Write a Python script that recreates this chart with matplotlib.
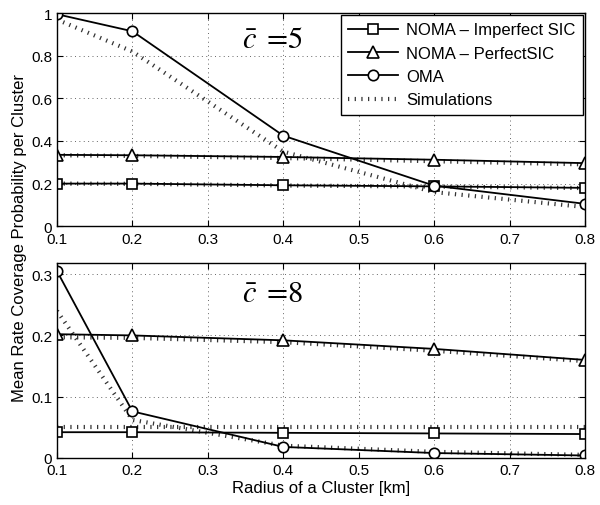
import matplotlib
matplotlib.use("Agg")
import matplotlib.pyplot as plt

plt.rcParams['font.family'] = ['Liberation Sans', 'DejaVu Sans']
plt.rcParams['mathtext.fontset'] = 'stix'

radius = [0.1, 0.2, 0.4, 0.6, 0.8]

# c = 5
top_imperfect = [0.200, 0.200, 0.192, 0.187, 0.180]
top_perfect = [0.335, 0.333, 0.325, 0.312, 0.296]
top_oma = [0.995, 0.915, 0.425, 0.190, 0.105]
top_sim_imperfect = [0.200, 0.199, 0.191, 0.186, 0.179]
top_sim_perfect = [0.333, 0.330, 0.320, 0.305, 0.290]
top_sim_oma = [0.970, 0.820, 0.350, 0.160, 0.090]

# c = 8
bot_imperfect = [0.042, 0.042, 0.041, 0.040, 0.039]
bot_perfect = [0.202, 0.200, 0.192, 0.178, 0.160]
bot_oma = [0.305, 0.076, 0.018, 0.008, 0.004]
bot_sim_imperfect = [0.050, 0.050, 0.050, 0.050, 0.050]
bot_sim_perfect = [0.197, 0.196, 0.189, 0.175, 0.158]
bot_sim_oma = [0.240, 0.062, 0.020, 0.010, 0.005]

labels = ["NOMA – Imperfect SIC", "NOMA – PerfectSIC", "OMA", "Simulations"]

fig = plt.figure(figsize=(6.0, 5.06), dpi=100)
ax1 = fig.add_axes([0.095, 0.551, 0.88, 0.421])
ax2 = fig.add_axes([0.095, 0.093, 0.88, 0.385])

sim_kw = dict(color='#333333', lw=3.0, dashes=(0.3, 1.3), dash_capstyle='butt', solid_capstyle='butt')
line_kw = dict(color='black', lw=1.3, mfc='white', mec='black', mew=1.2, ms=7)

def draw(ax, imp, per, oma, simi, simp, simo):
    ax.plot(radius, simi, **sim_kw)
    ax.plot(radius, simp, **sim_kw)
    ax.plot(radius, simo, **sim_kw)
    h1, = ax.plot(radius, imp, marker='s', **dict(line_kw, ms=6.5))
    h2, = ax.plot(radius, per, marker='^', **dict(line_kw, ms=8))
    h3, = ax.plot(radius, oma, marker='o', **dict(line_kw, ms=7.5))
    return h1, h2, h3

h1, h2, h3 = draw(ax1, top_imperfect, top_perfect, top_oma, top_sim_imperfect, top_sim_perfect, top_sim_oma)
draw(ax2, bot_imperfect, bot_perfect, bot_oma, bot_sim_imperfect, bot_sim_perfect, bot_sim_oma)
hs, = ax1.plot([], [], **sim_kw)

for ax in (ax1, ax2):
    ax.set_xlim(0.1, 0.8)
    ax.set_xticks([0.1, 0.2, 0.3, 0.4, 0.5, 0.6, 0.7, 0.8])
    ax.grid(True, color='#666666', linestyle=(0, (1, 3.5)), lw=0.7)
    ax.tick_params(direction='in', top=True, right=True, labelsize=11, length=4)
    ax.tick_params(axis='x', pad=4)
    for s in ax.spines.values():
        s.set_linewidth(1.0)

ax1.set_ylim(0, 1)
ax1.set_yticks([0, 0.2, 0.4, 0.6, 0.8, 1])
ax1.set_yticklabels(['0', '0.2', '0.4', '0.6', '0.8', '1'])
ax2.set_ylim(0, 0.318)
ax2.set_yticks([0, 0.1, 0.2, 0.3])
ax2.set_yticklabels(['0', '0.1', '0.2', '0.3'])

ax1.text(0.345, 0.88, r'$\bar{c}\;=\!5$', fontsize=22, ha='left', va='center')
ax2.text(0.345, 0.27, r'$\bar{c}\;=\!8$', fontsize=22, ha='left', va='center')

leg = ax1.legend([h1, h2, h3, hs], labels, loc='upper right', fontsize=12,
                 frameon=True, fancybox=False, edgecolor='black', framealpha=1,
                 handlelength=3.0, borderaxespad=0.1, labelspacing=0.5, handletextpad=0.5,
                 borderpad=0.45)
leg.get_frame().set_linewidth(1.0)

ax2.set_xlabel('Radius of a Cluster [km]', fontsize=12, labelpad=2)
fig.text(0.033, 0.53, 'Mean Rate Coverage Probability per Cluster', rotation=90,
         ha='center', va='center', fontsize=12)

fig.savefig('out.png', dpi=100)
